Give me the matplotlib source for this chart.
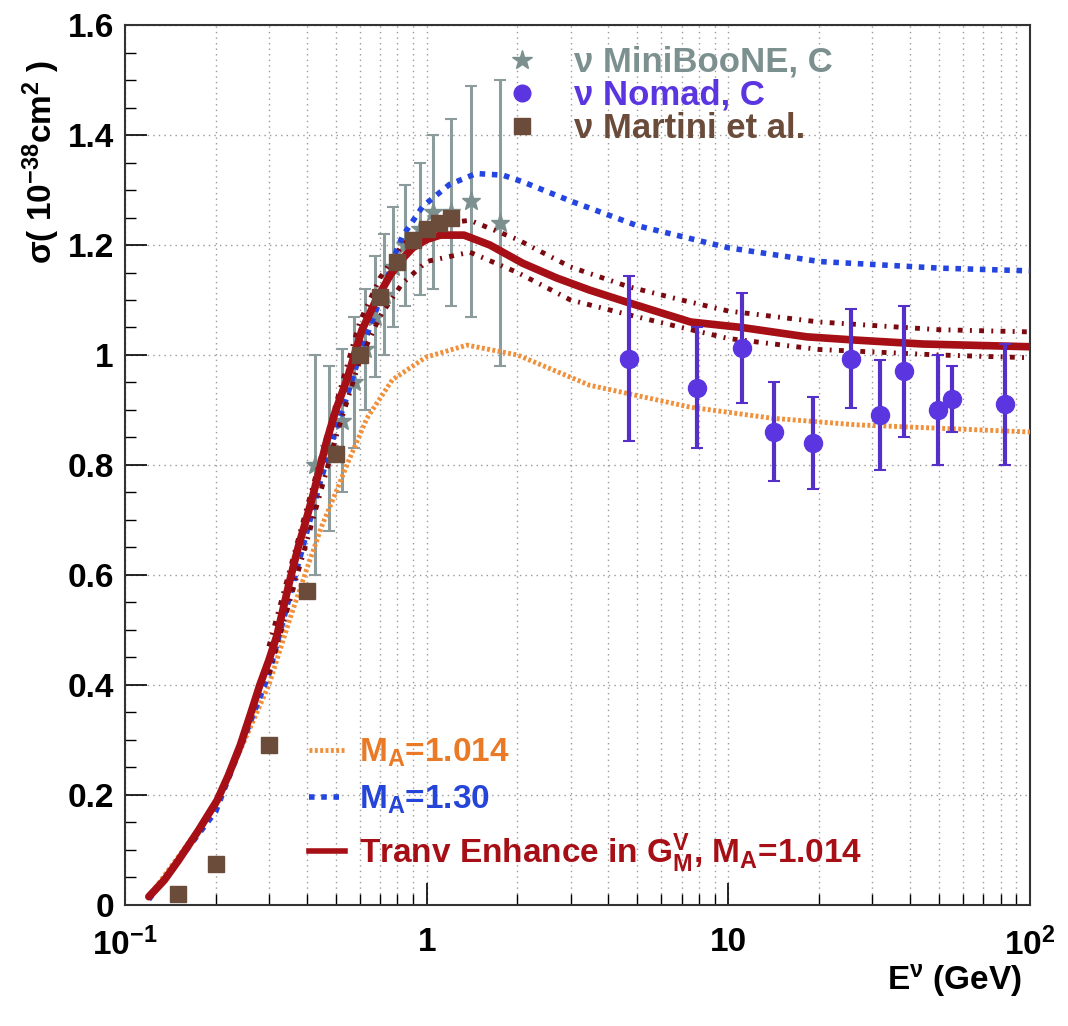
import matplotlib.pyplot as plt
from matplotlib.lines import Line2D
from matplotlib.ticker import FixedLocator, NullFormatter

plt.rcParams['font.family'] = ['Liberation Sans', 'DejaVu Sans']
plt.rcParams['font.weight'] = 'bold'
plt.rcParams['mathtext.fontset'] = 'custom'
plt.rcParams['mathtext.rm'] = 'Liberation Sans:bold'
plt.rcParams['mathtext.it'] = 'Liberation Sans:bold'
plt.rcParams['mathtext.bf'] = 'Liberation Sans:bold'
plt.rcParams['mathtext.default'] = 'bf'

# model curves (E in GeV, sigma in 1e-38 cm^2)
e_tranv = [0.12, 0.135, 0.15, 0.175, 0.202, 0.22, 0.241, 0.26, 0.28, 0.30, 0.319, 0.335, 0.352, 0.375,
           0.401, 0.42, 0.443, 0.467, 0.5, 0.544, 0.61, 0.68, 0.757, 0.815, 0.9, 1.0, 1.11, 1.33, 1.62,
           2.08, 2.7, 3.47, 4.68, 7.5, 11.1, 18.2, 26.6, 44, 100]
s_tranv = [0.015, 0.045, 0.08, 0.135, 0.19, 0.235, 0.29, 0.345, 0.40, 0.445, 0.49, 0.54, 0.59, 0.65,
           0.705, 0.745, 0.795, 0.845, 0.90, 0.955, 1.045, 1.10, 1.145, 1.17, 1.195, 1.21, 1.218, 1.218, 1.20,
           1.167, 1.14, 1.118, 1.095, 1.06, 1.05, 1.033, 1.027, 1.02, 1.015]

e_band = [0.3, 0.4, 0.5, 0.6, 0.7, 0.83, 1.0, 1.39, 2.0, 3.0, 4.68, 7.0, 10, 20, 50, 100]
s_band_hi = [0.47, 0.72, 0.91, 1.06, 1.14, 1.20, 1.235, 1.245, 1.21, 1.16, 1.124, 1.10, 1.08, 1.06, 1.046, 1.042]
s_band_lo = [0.42, 0.66, 0.85, 0.99, 1.07, 1.13, 1.17, 1.187, 1.15, 1.10, 1.073, 1.05, 1.03, 1.01, 1.0, 0.995]

e_ma130 = [0.12, 0.2, 0.3, 0.443, 0.496, 0.544, 0.6, 0.7, 0.795, 0.83, 0.97, 1.19, 1.46, 1.79, 2.08,
           3.0, 5.0, 10, 20, 50, 100]
s_ma130 = [0.01, 0.17, 0.42, 0.767, 0.858, 0.924, 1.0, 1.10, 1.19, 1.215, 1.27, 1.31, 1.33, 1.327, 1.315,
           1.28, 1.235, 1.195, 1.17, 1.158, 1.153]

e_ma1014 = [0.12, 0.2, 0.3, 0.352, 0.40, 0.45, 0.50, 0.544, 0.634, 0.77, 0.995, 1.36, 2.0, 3.47, 7.5, 14,
            26.6, 100]
s_ma1014 = [0.015, 0.18, 0.40, 0.52, 0.61, 0.69, 0.75, 0.80, 0.885, 0.955, 0.996, 1.018, 1.0, 0.945, 0.905,
            0.885, 0.873, 0.86]

# data points
e_mb = [0.425, 0.475, 0.525, 0.575, 0.625, 0.675, 0.725, 0.775, 0.85, 0.95, 1.05, 1.2, 1.4, 1.75]
s_mb = [0.80, 0.83, 0.88, 0.95, 1.01, 1.07, 1.11, 1.16, 1.20, 1.23, 1.26, 1.26, 1.28, 1.24]
err_mb = [0.20, 0.15, 0.13, 0.12, 0.11, 0.11, 0.11, 0.11, 0.11, 0.12, 0.14, 0.17, 0.21, 0.26]

e_nomad = [4.68, 7.87, 11.1, 14.2, 19.1, 25.5, 31.8, 38.2, 49.5, 55.1, 82.6]
s_nomad = [0.993, 0.94, 1.013, 0.86, 0.84, 0.993, 0.89, 0.97, 0.90, 0.92, 0.91]
err_nomad = [0.15, 0.11, 0.10, 0.09, 0.084, 0.09, 0.10, 0.12, 0.10, 0.06, 0.11]

e_martini = [0.15, 0.2, 0.3, 0.4, 0.5, 0.6, 0.7, 0.8, 0.9, 1.0, 1.1, 1.2]
s_martini = [0.02, 0.075, 0.29, 0.57, 0.82, 1.0, 1.105, 1.17, 1.21, 1.23, 1.24, 1.25]

y_ticks = [0, 0.2, 0.4, 0.6, 0.8, 1.0, 1.2, 1.4, 1.6]
y_labels = ['0', '0.2', '0.4', '0.6', '0.8', '1', '1.2', '1.4', '1.6']
x_ticks = [0.1, 1, 10, 100]
x_labels = ['10$^{-1}$', '1', '10', '10$^{2}$']

c_red = '#a50f15'
c_band = '#7a0a10'
c_blue = '#2545e0'
c_orange = '#f0903a'
c_grey = '#7d9090'
c_nomad = '#5a35e0'
c_brown = '#6b4c3b'

fig = plt.figure(figsize=(10.68, 10.26), dpi=100)
ax = fig.add_axes([0.117, 0.118, 0.8474, 0.8576])

ax.errorbar(e_mb, s_mb, yerr=err_mb, fmt='*', color=c_grey, ms=14, ecolor='#8c9c9c', elinewidth=2.2,
            capsize=4, capthick=1.5, zorder=3)
ax.plot(e_ma1014, s_ma1014, color=c_orange, lw=3.5, ls=(0, (0.6, 0.5)), zorder=4)
ax.plot(e_ma130, s_ma130, color=c_blue, lw=4, ls=(0, (1, 1.2)), zorder=4)
ax.plot(e_band, s_band_hi, color=c_band, lw=3.5, ls=(0, (1, 1.5, 0.4, 1.5)), zorder=5)
ax.plot(e_band, s_band_lo, color=c_band, lw=3.5, ls=(0, (1, 1.5, 0.4, 1.5)), zorder=5)
ax.plot(e_tranv, s_tranv, color=c_red, lw=5.5, zorder=6, solid_capstyle='round', solid_joinstyle='round')
ax.errorbar(e_nomad, s_nomad, yerr=err_nomad, fmt='o', color=c_nomad, ms=13, ecolor='#5530c8',
            elinewidth=3, capsize=4, capthick=1.5, zorder=7)
ax.plot(e_martini, s_martini, 's', color=c_brown, ms=12, zorder=8)

ax.set_xscale('log')
ax.set_xlim(0.1, 100)
ax.set_ylim(0, 1.6)

ax.xaxis.set_major_locator(FixedLocator(x_ticks))
ax.set_xticklabels(x_labels)
ax.xaxis.set_minor_locator(FixedLocator([m * d for d in (0.1, 1, 10) for m in range(2, 10)]))
ax.xaxis.set_minor_formatter(NullFormatter())
ax.yaxis.set_major_locator(FixedLocator(y_ticks))
ax.set_yticklabels(y_labels)
ax.yaxis.set_minor_locator(FixedLocator([i * 0.05 for i in range(33)]))

ax.tick_params(which='both', direction='in', top=False, right=False, labelsize=24, pad=8)
ax.tick_params(which='major', length=16, width=1.2)
ax.tick_params(which='minor', length=8, width=1.0)
ax.tick_params(axis='x', which='major', pad=16)
for lab in ax.get_xticklabels() + ax.get_yticklabels():
    lab.set_fontweight('bold')

ax.grid(True, which='major', axis='y', color='#999999', ls=(0, (1, 3)), lw=1.0)
ax.grid(True, which='both', axis='x', color='#999999', ls=(0, (1, 3)), lw=1.0)
ax.set_axisbelow(True)
for sp in ax.spines.values():
    sp.set_linewidth(1.5)
    sp.set_color('#333333')

ax.set_ylabel('σ( 10$^{-38}$cm$^{2}$ )', fontsize=24, fontweight='bold')
ax.yaxis.set_label_coords(-0.07, 0.845)
ax.set_xlabel('E$^{ν}$ (GeV)', fontsize=24, fontweight='bold')
ax.xaxis.set_label_coords(0.917, -0.065)

h_data = [Line2D([], [], marker='*', ls='none', color=c_grey, ms=15),
          Line2D([], [], marker='o', ls='none', color=c_nomad, ms=12),
          Line2D([], [], marker='s', ls='none', color=c_brown, ms=11)]
leg1 = ax.legend(h_data, ['ν MiniBooNE, C', 'ν Nomad, C', 'ν Martini et al.'],
                 labelcolor=[c_grey, c_nomad, c_brown], loc='upper left',
                 bbox_to_anchor=(0.381, 1.012), frameon=False, fontsize=25,
                 handlelength=1.2, handletextpad=0.9, labelspacing=0.0, borderpad=0.4)
ax.add_artist(leg1)

h_lines = [Line2D([], [], color=c_orange, lw=3.5, ls=(0, (0.6, 0.5))),
           Line2D([], [], color=c_blue, lw=4, ls=(0, (1, 1.2))),
           Line2D([], [], color=c_red, lw=4)]
ax.legend(h_lines, ['M$_{A}$=1.014', 'M$_{A}$=1.30', 'Tranv Enhance in G$_{M}^{V}$, M$_{A}$=1.014'],
          labelcolor=['#ea7a26', '#2545d8', c_red], loc='lower left',
          bbox_to_anchor=(0.17, 0.0), frameon=False, fontsize=24,
          handlelength=1.1, handletextpad=0.4, labelspacing=0.45)

fig.savefig('out.png', dpi=100)
